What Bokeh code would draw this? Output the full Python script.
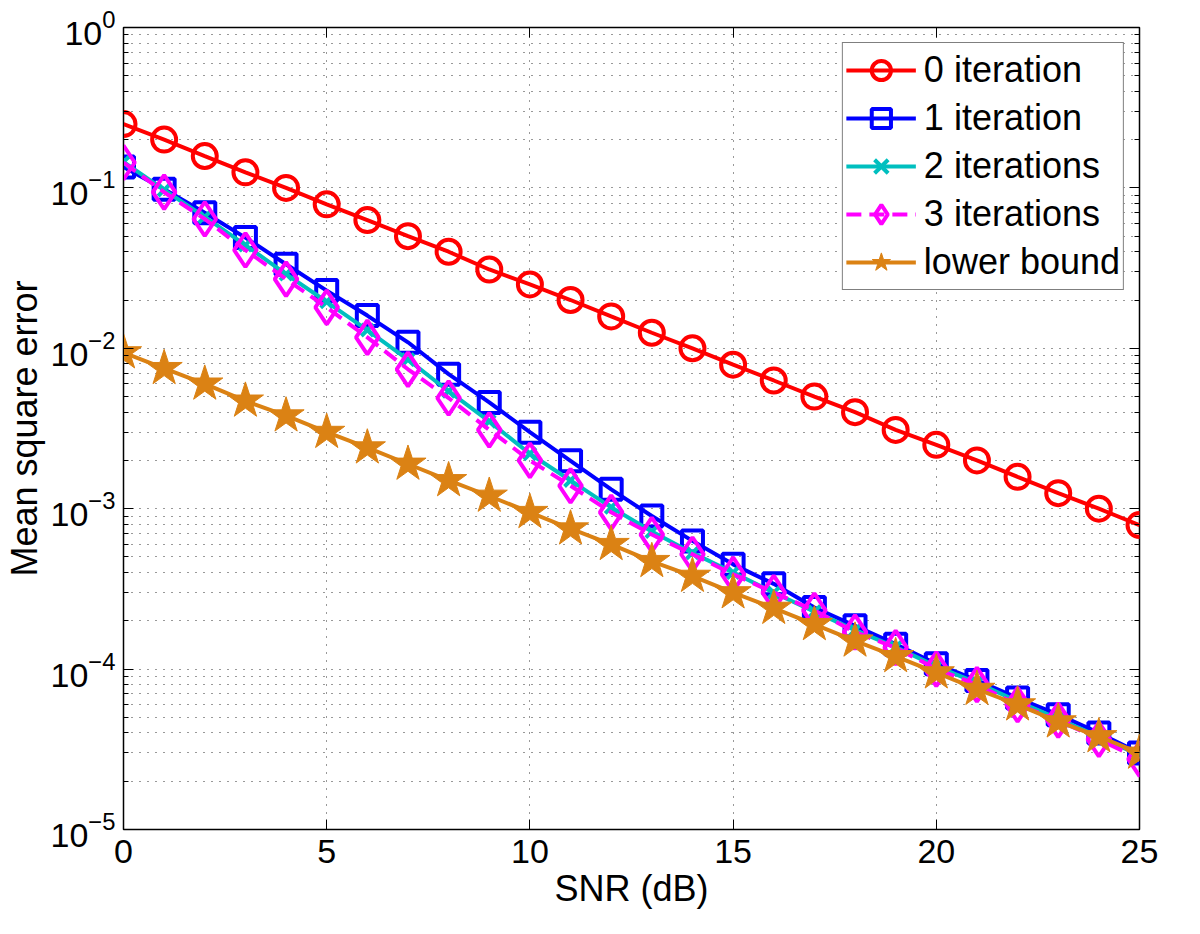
from bokeh.plotting import figure
from bokeh.models import Range1d, FixedTicker, LinearAxis, LogTickFormatter
from bokeh.embed import file_html
from bokeh.resources import INLINE

snr = list(range(0, 26))

mse_iter0 = [0.25, 0.2, 0.158, 0.125, 0.1, 0.079, 0.063, 0.05, 0.04, 0.031, 0.025,
             0.02, 0.0158, 0.0125, 0.01, 0.0079, 0.0063, 0.005, 0.004, 0.0031,
             0.0025, 0.002, 0.00158, 0.00125, 0.001, 0.00079]
mse_iter1 = [0.135, 0.098, 0.070, 0.049, 0.0334, 0.0229, 0.016, 0.0109, 0.0069, 0.0046,
             0.0030, 0.00199, 0.00132, 0.00090, 0.00063, 0.00045, 0.00034, 0.000242,
             0.000186, 0.000143, 0.000108, 8.5e-5, 6.6e-5, 5.2e-5, 4.0e-5, 3.0e-5]
mse_iter2 = [0.145, 0.097, 0.066, 0.044, 0.029, 0.0195, 0.013, 0.0085, 0.0054, 0.0035,
             0.0022, 0.0015, 0.00102, 0.00072, 0.00053, 0.00040, 0.00030, 0.000228,
             0.000175, 0.000137, 0.000104, 8.2e-5, 6.3e-5, 4.9e-5, 3.8e-5, 2.9e-5]
mse_iter3 = [0.144, 0.094, 0.064, 0.041, 0.027, 0.018, 0.0117, 0.0074, 0.0049, 0.0031,
             0.0020, 0.00139, 0.00095, 0.00069, 0.00052, 0.00039, 0.00030, 0.000232,
             0.00017, 0.000136, 0.0001, 8.0e-5, 6.0e-5, 4.8e-5, 3.65e-5, 2.75e-5]
mse_bound = [0.0094, 0.0075, 0.006, 0.0047, 0.0038, 0.003, 0.0024, 0.0019, 0.0015,
             0.0012, 0.00095, 0.00075, 0.0006, 0.00047, 0.00038, 0.0003, 0.00024,
             0.00019, 0.00015, 0.00012, 9.5e-5, 7.5e-5, 6.0e-5, 4.7e-5, 3.8e-5, 3.0e-5]

x_ticks = [0, 5, 10, 15, 20, 25]
y_ticks = [1e-5, 1e-4, 1e-3, 1e-2, 1e-1, 1.0]
y_minor = [d * m for d in y_ticks[:-1] for m in range(2, 10)]

FONT = "Liberation Sans"
TICK_FS = "34px"
LABEL_FS = "36px"

p = figure(width=1180, height=918, frame_width=1016, frame_height=802,
           y_axis_type="log", x_range=Range1d(0, 25), y_range=Range1d(1e-5, 1),
           output_backend="svg", toolbar_location=None,
           min_border_left=117, min_border_top=27, min_border_right=47,
           min_border_bottom=89, background_fill_color="white",
           border_fill_color="white")

p.outline_line_color = "black"
p.outline_line_width = 1.5
p.outline_line_alpha = 1

# axes
p.xaxis.ticker = FixedTicker(ticks=x_ticks)
p.yaxis.ticker = FixedTicker(ticks=y_ticks, minor_ticks=y_minor)
p.yaxis.formatter = LogTickFormatter()
for ax in (p.xaxis[0], p.yaxis[0]):
    ax.major_tick_in = 10
    ax.major_tick_out = 0
    ax.minor_tick_in = 5
    ax.minor_tick_out = 0
    ax.major_tick_line_color = "black"
    ax.minor_tick_line_color = "black"
    ax.axis_line_color = "black"
    ax.major_label_text_font = FONT
    ax.major_label_text_font_size = TICK_FS
    ax.major_label_text_color = "black"
    ax.axis_label_text_font = FONT
    ax.axis_label_text_font_size = LABEL_FS
    ax.axis_label_text_font_style = "normal"
    ax.axis_label_text_color = "black"
p.xaxis.axis_label = "SNR (dB)"
p.yaxis.axis_label = "Mean square error"
p.xaxis.major_label_standoff = 10
p.yaxis.major_label_standoff = 8
p.xaxis.axis_label_standoff = 2
p.yaxis.axis_label_standoff = 3

# mirrored ticks (box on)
top_ax = LinearAxis(ticker=FixedTicker(ticks=x_ticks), major_label_text_font_size="1px",
                    major_label_text_alpha=0, major_label_standoff=0,
                    major_tick_in=10, major_tick_out=0, axis_line_color=None,
                    minor_tick_line_color=None, major_tick_line_color="black")
right_ax = LinearAxis(ticker=FixedTicker(ticks=y_ticks, minor_ticks=y_minor),
                      major_label_text_font_size="1px", major_label_text_alpha=0,
                      major_label_standoff=0,
                      major_tick_in=10, major_tick_out=0,
                      minor_tick_in=5, minor_tick_out=0, axis_line_color=None,
                      major_tick_line_color="black", minor_tick_line_color="black")
p.add_layout(top_ax, "above")
p.add_layout(right_ax, "right")

# grid
GRID_COLOR = "#333333"
p.xgrid.ticker = FixedTicker(ticks=x_ticks)
p.xgrid.grid_line_color = GRID_COLOR
p.xgrid.grid_line_dash = "1 7"
p.xgrid.grid_line_width = 1
p.ygrid.ticker = FixedTicker(ticks=y_ticks, minor_ticks=y_minor)
p.ygrid.grid_line_color = GRID_COLOR
p.ygrid.grid_line_dash = "1 7"
p.ygrid.minor_grid_line_color = GRID_COLOR
p.ygrid.minor_grid_line_dash = "1 7"

RED = "#ff0000"
BLUE = "#0000ff"
CYAN = "#00bfbf"
MAGENTA = "#ff00ff"
ORANGE = "#db8214"
LW = 4

p.line(snr, mse_iter0, color=RED, line_width=LW, legend_label="0 iteration")
p.scatter(snr, mse_iter0, marker="circle", size=24, line_color=RED, line_width=LW,
          fill_color=None, legend_label="0 iteration")

p.line(snr, mse_iter1, color=BLUE, line_width=LW, legend_label="1 iteration")
p.scatter(snr, mse_iter1, marker="square", size=21, line_color=BLUE, line_width=LW,
          fill_color=None, legend_label="1 iteration")

p.line(snr, mse_iter2, color=CYAN, line_width=LW, legend_label="2 iterations")
p.scatter(snr, mse_iter2, marker="x", size=17, line_color=CYAN, line_width=LW,
          legend_label="2 iterations")

p.line(snr, mse_iter3, color=MAGENTA, line_width=LW, line_dash="15 8",
       legend_label="3 iterations")
p.scatter(snr, mse_iter3, marker="diamond", size=34, line_color=MAGENTA, line_width=LW,
          fill_color=None, legend_label="3 iterations")

p.line(snr, mse_bound, color=ORANGE, line_width=LW, legend_label="lower bound")
p.scatter(snr, mse_bound, marker="star", size=38, line_color=ORANGE, fill_color=ORANGE,
          line_width=1, legend_label="lower bound")

lg = p.legend[0]
lg.location = "top_right"
lg.margin = 15
lg.padding = 3
lg.spacing = 0
lg.glyph_width = 70
lg.glyph_height = 48
lg.label_height = 48
lg.label_standoff = 8
lg.label_text_font = FONT
lg.label_text_font_size = LABEL_FS
lg.label_text_color = "black"
lg.border_line_color = "black"
lg.border_line_width = 1.5
lg.background_fill_color = "white"
lg.background_fill_alpha = 1

open("out.html", "w").write(file_html(p, INLINE))
